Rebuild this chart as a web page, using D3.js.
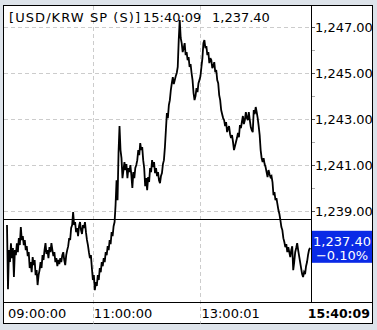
<!DOCTYPE html>
<html><head><meta charset="utf-8">
<script src="https://cdn.jsdelivr.net/npm/d3@7"></script>
<style>html,body{margin:0;padding:0;background:#dde3ea;}svg{display:block;}</style>
</head><body>
<script>
// ---- data ----
const title = "[USD/KRW SP (S)]";
const lastTime = "15:40:09";
const lastPrice = 1237.40;
const changePct = -0.10;
const prevClose = 1238.64;
const yMajorTicks = [1247, 1245, 1243, 1241, 1239];
const yMinorTicks = [1246, 1244, 1242, 1240];
const xTickIndex = [0, 87, 196];
const xTickLabels = ["09:00:00", "11:00:00", "13:00:01"];
const prices = [
1238.39,1235.60,1237.30,1236.78,1237.60,1236.95,1237.39,1236.13,1237.30,1237.08,
1237.60,1237.21,1237.82,1237.52,1238.30,1237.74,1237.91,1237.52,1237.74,1237.30,
1237.47,1237.04,1237.21,1236.52,1236.78,1236.34,1237.00,1236.65,1236.87,1236.21,
1236.43,1235.78,1236.21,1236.43,1236.78,1236.52,1237.08,1236.87,1237.30,1237.60,
1237.13,1237.30,1236.95,1237.43,1237.21,1237.60,1237.30,1237.04,1237.21,1236.78,
1236.95,1236.60,1236.87,1236.69,1236.95,1236.78,1237.08,1237.21,1236.87,1236.65,
1237.08,1237.30,1237.47,1237.82,1237.74,1238.26,1238.39,1238.95,1238.39,1238.52,
1238.08,1238.26,1237.91,1238.34,1238.52,1238.17,1238.00,1238.39,1238.26,1238.52,
1238.08,1237.74,1237.52,1237.21,1236.95,1237.08,1236.52,1236.00,1236.21,1235.56,
1235.91,1235.74,1236.21,1236.00,1236.52,1236.34,1236.78,1236.60,1236.95,1236.78,
1237.21,1237.08,1237.47,1237.30,1237.74,1237.56,1238.08,1237.91,1238.34,1238.52,
1239.26,1240.34,1239.47,1241.52,1242.69,1241.65,1241.30,1240.43,1240.78,1241.13,
1240.78,1241.04,1240.43,1240.87,1240.69,1241.00,1240.56,1240.00,1240.69,1240.43,
1240.87,1241.00,1241.21,1241.65,1241.43,1241.95,1241.65,1241.78,1241.21,1240.87,
1240.08,1240.43,1239.91,1240.47,1240.26,1240.87,1240.69,1241.21,1240.91,1241.13,
1240.65,1240.87,1240.52,1240.69,1240.34,1240.21,1240.52,1240.65,1241.04,1241.21,
1241.78,1242.52,1243.26,1243.04,1243.60,1243.82,1244.26,1244.56,1244.82,1244.52,
1244.69,1244.87,1245.00,1245.26,1246.43,1247.30,1246.52,1246.30,1245.91,1246.08,
1246.30,1245.78,1245.91,1245.56,1245.69,1245.26,1245.39,1245.00,1244.69,1244.13,
1243.82,1244.00,1244.34,1244.17,1244.56,1244.69,1244.87,1245.26,1245.65,1246.30,
1246.43,1246.08,1246.17,1245.78,1245.91,1245.43,1245.65,1245.56,1245.21,1245.30,
1245.47,1245.04,1245.13,1244.69,1244.56,1244.04,1243.82,1243.39,1243.21,1243.04,
1242.95,1242.69,1242.87,1242.43,1242.60,1242.69,1242.34,1242.17,1242.30,1242.00,
1241.65,1241.82,1242.00,1242.17,1242.39,1242.21,1242.74,1242.60,1242.87,1243.13,
1242.78,1242.95,1243.30,1243.04,1242.95,1243.30,1242.95,1242.65,1242.52,1242.43,
1243.39,1243.21,1243.52,1243.30,1243.04,1242.69,1242.30,1241.65,1241.30,1241.13,
1241.30,1241.04,1240.91,1240.69,1240.47,1240.78,1240.60,1240.47,1240.52,1240.26,
1239.69,1239.82,1239.47,1239.56,1239.30,1239.04,1238.87,1238.60,1238.30,1238.17,
1237.82,1237.65,1237.43,1237.56,1237.21,1237.43,1237.21,1237.00,1237.30,1237.47,
1236.43,1236.78,1237.21,1237.39,1237.60,1237.30,1237.04,1236.78,1236.52,1236.26,
1236.13,1236.34,1236.26,1236.60,1236.78,1237.08,1237.30,1237.40
];

// ---- layout ----
const W = 377, H = 330;
const frame = {l: 3.5, t: 5.5, r: 372.5, b: 323.5};
const plot = {l: 4, t: 6, r: 311, b: 302};
const FONT = "'DejaVu Sans', Verdana, sans-serif";

const svg = d3.select("body").append("svg").attr("width", W).attr("height", H);
svg.append("rect").attr("width", W).attr("height", H).attr("fill", "#dde3ea");
svg.append("rect").attr("x", frame.l).attr("y", frame.t)
  .attr("width", frame.r - frame.l).attr("height", frame.b - frame.t)
  .attr("fill", "#fff").attr("stroke", "#000").attr("stroke-width", 1);

const x = d3.scaleLinear().domain([0, prices.length - 1]).range([7, 310]);
const y = d3.scaleLinear().domain([1239, 1247]).range([211, 27]);

const fmt = d3.format(",.2f");

// horizontal dashed grid
svg.append("g").selectAll("line").data(yMajorTicks).join("line")
  .attr("x1", plot.l).attr("x2", plot.r)
  .attr("y1", d => Math.round(y(d)) + 0.5).attr("y2", d => Math.round(y(d)) + 0.5)
  .attr("stroke", "#cccccc").attr("stroke-dasharray", "4,3");

// vertical dashed grid (through the time-label band)
svg.append("g").selectAll("line").data(xTickIndex.slice(1)).join("line")
  .attr("x1", d => Math.round(x(d)) + 0.5).attr("x2", d => Math.round(x(d)) + 0.5)
  .attr("y1", plot.t).attr("y2", frame.b)
  .attr("stroke", "#cccccc").attr("stroke-dasharray", "4,3");

// prev close line
svg.append("line")
  .attr("x1", plot.l).attr("x2", plot.r)
  .attr("y1", Math.round(y(prevClose)) + 0.5).attr("y2", Math.round(y(prevClose)) + 0.5)
  .attr("stroke", "#000");

// price line
const line = d3.line().x((d, i) => x(i)).y(d => y(d));
svg.append("path").datum(prices).attr("d", line)
  .attr("fill", "none").attr("stroke", "#000").attr("stroke-width", 1.8)
  .attr("stroke-linejoin", "miter").attr("stroke-miterlimit", 3);

// right axis
svg.append("line").attr("x1", plot.r + 0.5).attr("x2", plot.r + 0.5)
  .attr("y1", frame.t).attr("y2", plot.b).attr("stroke", "#000");
svg.append("g").selectAll("line").data(yMinorTicks).join("line")
  .attr("x1", plot.r + 1).attr("x2", plot.r + 4)
  .attr("y1", d => Math.round(y(d)) + 0.5).attr("y2", d => Math.round(y(d)) + 0.5)
  .attr("stroke", "#aaa");
svg.append("g").selectAll("line").data(yMajorTicks).join("line")
  .attr("x1", plot.r + 1).attr("x2", plot.r + 4)
  .attr("y1", d => Math.round(y(d)) + 0.5).attr("y2", d => Math.round(y(d)) + 0.5)
  .attr("stroke", "#555");

svg.append("defs").append("clipPath").attr("id", "axclip")
  .append("rect").attr("x", plot.r + 1).attr("y", frame.t).attr("width", frame.r - plot.r - 1.5).attr("height", plot.b - frame.t);
svg.append("g").attr("clip-path", "url(#axclip)").selectAll("text").data(yMajorTicks).join("text")
  .attr("x", 315).attr("y", d => y(d) + 5)
  .attr("font-family", FONT).attr("font-size", 13).attr("fill", "#000")
  .text(d => fmt(d));

// current price box
const yc = y(lastPrice);
svg.append("rect").attr("x", plot.r + 1).attr("y", yc - 17).attr("width", frame.r - plot.r - 1.5).attr("height", 32)
  .attr("fill", "#0a2ae6");
svg.append("text").attr("x", 342).attr("y", yc - 2).attr("text-anchor", "middle")
  .attr("font-family", FONT).attr("font-size", 13).attr("fill", "#fff").text(fmt(lastPrice));
svg.append("text").attr("x", 342).attr("y", yc + 12).attr("text-anchor", "middle")
  .attr("font-family", FONT).attr("font-size", 13).attr("fill", "#fff").text(d3.format(".2f")(changePct) + "%");

// bottom axis line
svg.append("line").attr("x1", frame.l).attr("x2", frame.r)
  .attr("y1", plot.b + 0.5).attr("y2", plot.b + 0.5).attr("stroke", "#000");

// time labels
svg.append("g").selectAll("text").data(xTickIndex).join("text")
  .attr("x", d => x(d) + 1).attr("y", 318)
  .attr("font-family", FONT).attr("font-size", 13).attr("fill", "#000")
  .text((d, i) => xTickLabels[i]);
svg.append("text").attr("x", 370).attr("y", 318).attr("text-anchor", "end")
  .attr("font-family", FONT).attr("font-size", 12.5).attr("font-weight", "bold").attr("fill", "#000")
  .text(lastTime);

// title
const t = svg.append("text").attr("y", 22).attr("font-family", FONT).attr("font-size", 13).attr("fill", "#000");
t.append("tspan").attr("x", 9).attr("textLength", 131).attr("lengthAdjust", "spacing").text(title);
t.append("tspan").attr("x", 143).text(lastTime);
t.append("tspan").attr("x", 212).text(fmt(lastPrice));
</script>
</body></html>
